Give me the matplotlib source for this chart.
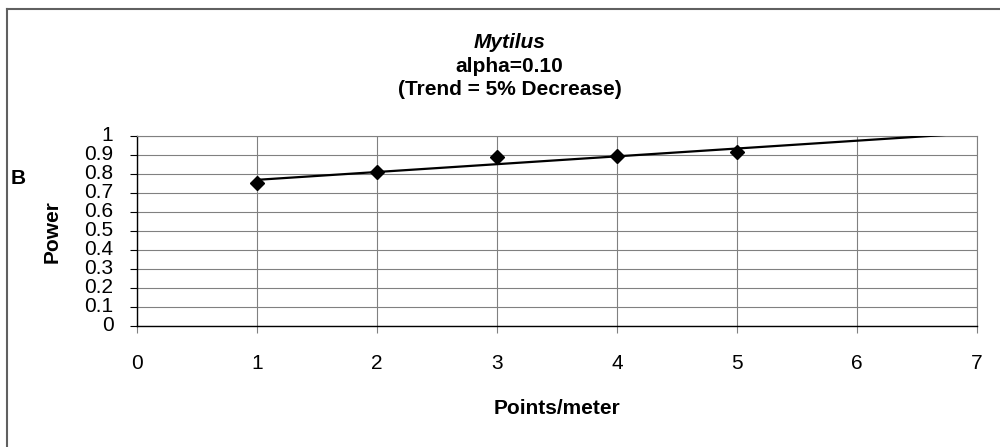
import numpy as np
import matplotlib
matplotlib.use('Agg')
import matplotlib.pyplot as plt
from matplotlib.lines import Line2D

plt.rcParams['font.family'] = ['Liberation Sans', 'DejaVu Sans']

# power at each sampling density
points_per_meter = [1, 2, 3, 4, 5]
power = [0.751, 0.809, 0.889, 0.895, 0.914]

x_ticks = [0, 1, 2, 3, 4, 5, 6, 7]
y_ticks = [0, 0.1, 0.2, 0.3, 0.4, 0.5, 0.6, 0.7, 0.8, 0.9, 1]
y_tick_labels = ['0', '0.1', '0.2', '0.3', '0.4', '0.5', '0.6', '0.7', '0.8', '0.9', '1']

FS = 15

fig = plt.figure(figsize=(10, 4.47), dpi=100)
ax = fig.add_axes([0.137, 0.2707, 0.84, 0.4251])

# linear trendline, extended forward
slope, intercept = np.polyfit(points_per_meter, power, 1)
trend_x = np.array([1, 7])
ax.plot(trend_x, slope * trend_x + intercept, color='black', lw=1.6, zorder=3)

ax.plot(points_per_meter, power, linestyle='none', marker='D', ms=7.5,
	color='black', zorder=4)

ax.set_xlim(0, 7)
ax.set_ylim(0, 1)
ax.set_xticks(x_ticks)
ax.set_yticks(y_ticks)
ax.set_yticklabels(y_tick_labels)
ax.grid(True, color='#808080', lw=0.8)
ax.set_axisbelow(True)

for side in ['top', 'right']:
	ax.spines[side].set_color('#808080')
	ax.spines[side].set_linewidth(0.8)
for side in ['left', 'bottom']:
	ax.spines[side].set_color('black')
	ax.spines[side].set_linewidth(1.0)

ax.tick_params(axis='x', direction='out', length=5, width=0.8, color='#808080',
	labelsize=FS, pad=15)
ax.tick_params(axis='y', direction='out', length=5, width=0.8, color='black',
	labelsize=FS, pad=12)
for lab in ax.get_yticklabels():
	lab.set_verticalalignment('center')

ax.set_xlabel('Points/meter', fontsize=FS, fontweight='bold', labelpad=19)
fig.text(0.052, 0.483, 'Power', rotation=90, fontsize=FS, fontweight='bold',
	ha='center', va='center')
fig.text(0.018, 1 - 178 / 447, 'B', fontsize=FS, fontweight='bold',
	ha='center', va='center')

# three line title, genus in italics
title_x = 0.5095
fig.text(title_x, 1 - 43 / 447, 'Mytilus', fontsize=FS, fontweight='bold',
	fontstyle='italic', ha='center', va='center')
fig.text(title_x, 1 - 67 / 447, 'alpha=0.10', fontsize=FS, fontweight='bold',
	ha='center', va='center')
fig.text(title_x, 1 - 90 / 447, '(Trend = 5% Decrease)', fontsize=FS,
	fontweight='bold', ha='center', va='center')

# chart frame, only top and left edges fall inside the image
fig.add_artist(Line2D([0.0065, 1.0], [1 - 9 / 447, 1 - 9 / 447],
	transform=fig.transFigure, color='#606060', lw=1.5))
fig.add_artist(Line2D([0.0065, 0.0065], [0.0, 1 - 9 / 447],
	transform=fig.transFigure, color='#606060', lw=1.5))

fig.savefig('out.png', dpi=100)
plt.close(fig)
